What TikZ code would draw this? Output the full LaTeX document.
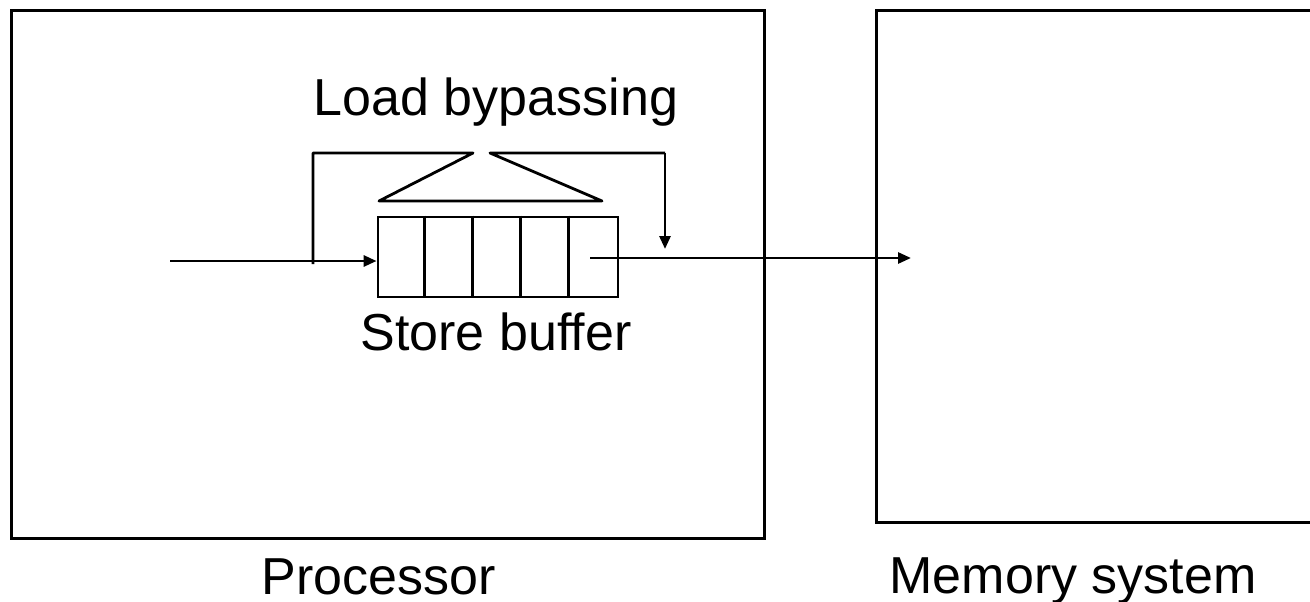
\documentclass[tikz,border=0pt]{standalone}
\usepackage{fontspec}
\setmainfont{Liberation Sans}
\usetikzlibrary{arrows.meta}
\begin{document}
\begin{tikzpicture}[x=1pt,y=-1pt,
  line/.style={line width=2.8pt, line join=round},
  arr/.style={line, -{Triangle[length=13pt,width=11pt]}},
  boxstyle/.style={draw, line width=2.8pt, inner sep=0pt, anchor=north west},
  lbl/.style={font=\fontsize{52}{60}\selectfont, anchor=base, inner sep=0pt, text depth=0pt}]
\useasboundingbox (0,0) rectangle (1310,602);
% boxes
\node[boxstyle, minimum width=753pt, minimum height=528pt] (proc) at (10,9) {};
\node[boxstyle, minimum width=445pt, minimum height=512pt] (mem) at (875,9) {};
% store buffer
\node[draw, line width=2.8pt, inner sep=0pt, minimum width=240pt, minimum height=80pt] (buf) at (498,257) {};
\foreach \i in {1,...,4} {
  \draw[line] ([xshift=\i*48pt]buf.north west) -- ([xshift=\i*48pt]buf.south west);
}
% labels
\node[lbl] (lload) at (496,115) {Load bypassing};
\node[lbl] (lstore) at (496,350) {Store buffer};
\node[lbl] (lproc) at (379,594) {Processor};
\node[lbl] (lmem) at (1073,593) {Memory system};
% coordinates
\coordinate (in) at (170,261);
\coordinate (b0) at (313,264);
\coordinate (b1) at (313,153);
\coordinate (b2) at (473,153);
\coordinate (b3) at (379,201);
\coordinate (b4) at (602,201);
\coordinate (b5) at (490,153);
\coordinate (b6) at (665,153);
\coordinate (b7) at (665,249);
\coordinate (out) at (590,258);
\coordinate (memin) at (911,258);
% connectors
\draw[arr] (in) -- (in -| buf.west);
\draw[line] (b0) -- (b1) -- (b2) -- (b3) -- (b4) -- (b5) -- (b6);
\draw[arr] (b6) -- (b7);
\draw[arr] (out) -- (memin);
\end{tikzpicture}
\end{document}
